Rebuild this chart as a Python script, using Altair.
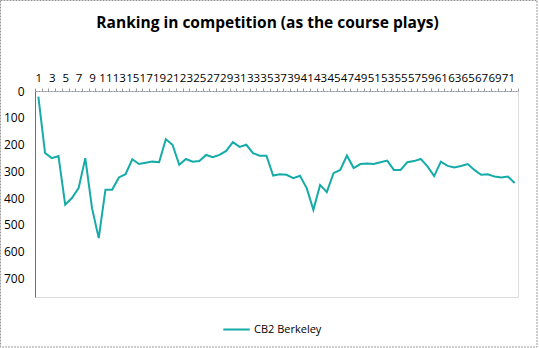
import altair as alt
import pandas as pd

rounds = list(range(1, 73))
ranking = [21, 232, 251, 243, 425, 400, 363, 251, 438, 550,
           369, 369, 323, 311, 255, 273, 268, 264, 266, 180,
           201, 276, 254, 264, 262, 239, 247, 239, 224, 191,
           209, 201, 232, 242, 242, 316, 311, 313, 326, 317,
           363, 444, 351, 378, 307, 295, 241, 288, 273, 271,
           273, 266, 260, 295, 295, 266, 262, 254, 282, 318,
           264, 280, 286, 280, 273, 295, 313, 311, 320, 323,
           320, 344]
series_name = "CB2 Berkeley"
y_ticks = [0, 100, 200, 300, 400, 500, 600, 700]
x_label_values = list(range(1, 72, 2))
x_tick_values = [i + 0.5 for i in range(0, 73)]

df = pd.DataFrame({"round": rounds, "rank": ranking, "series": series_name})

FONT = "Open Sans"
LINE = "#14ABA8"
BLUE = "#4A6FD8"

x_axis_values = sorted(x_label_values + x_tick_values)

x_enc = alt.X(
    "round:Q",
    scale=alt.Scale(domain=[0.5, 72.5], nice=False, zero=False),
    axis=alt.Axis(
        orient="top", title=None, grid=False,
        values=x_axis_values, tickCount=500,
        labelExpr="datum.value % 2 == 1 ? '' + datum.value : ''",
        labelOverlap=False, labelFlush=False, labelBound=False,
        labelFont=FONT, labelFontSize=11.5, labelColor="#000000",
        labelPadding=5,
        tickSize=3, tickColor="#9a9a9a",
        tickOpacity={"condition": {"test": "datum.value % 1 != 0", "value": 1}, "value": 0},
        domainColor="#8a8fa8", domainDash=[2, 1],
    ),
)
y_enc = alt.Y(
    "rank:Q",
    scale=alt.Scale(domain=[0, 770], reverse=True, nice=False, zero=False),
    axis=alt.Axis(
        title=None, grid=False, values=y_ticks, ticks=False,
        labelFont=FONT, labelFontSize=12, labelColor="#000000",
        labelPadding=11, domainColor=BLUE,
    ),
)

line = alt.Chart(df).mark_line(strokeWidth=2).encode(
    x=x_enc,
    y=y_enc,
    color=alt.Color(
        "series:N",
        scale=alt.Scale(range=[LINE]),
        legend=alt.Legend(
            title=None, orient="none", legendX=187, legendY=224,
            symbolType="stroke", symbolSize=700, symbolStrokeWidth=2,
            labelFont=FONT, labelFontSize=11, labelColor="#000000",
            labelOffset=3, padding=0,
        ),
    ),
)

frame = alt.Chart(alt.Data(values=[{"a": 1}])).mark_rect(
    fill=None, stroke="#9a9a9a", strokeDash=[2, 1], strokeWidth=1
).encode(
    x=alt.value(-34.5), x2=alt.value(502), y=alt.value(-90.5), y2=alt.value(256)
)

chart = alt.layer(line, frame).properties(
    width=483, height=206,
    padding={"left": 35, "top": 91, "right": 21, "bottom": 51},
    autosize=alt.AutoSizeParams(type="none"),
    title=alt.TitleParams(
        "Ranking in competition (as the course plays)",
        font=FONT, fontSize=15.5, fontWeight="bold", color="#000000",
        anchor="middle", dx=-9, offset=0, dy=31,
    ),
).configure_view(stroke=BLUE, strokeWidth=1).configure(background="white")

chart.save("out.html", embed_options={"renderer": "svg", "actions": False})
